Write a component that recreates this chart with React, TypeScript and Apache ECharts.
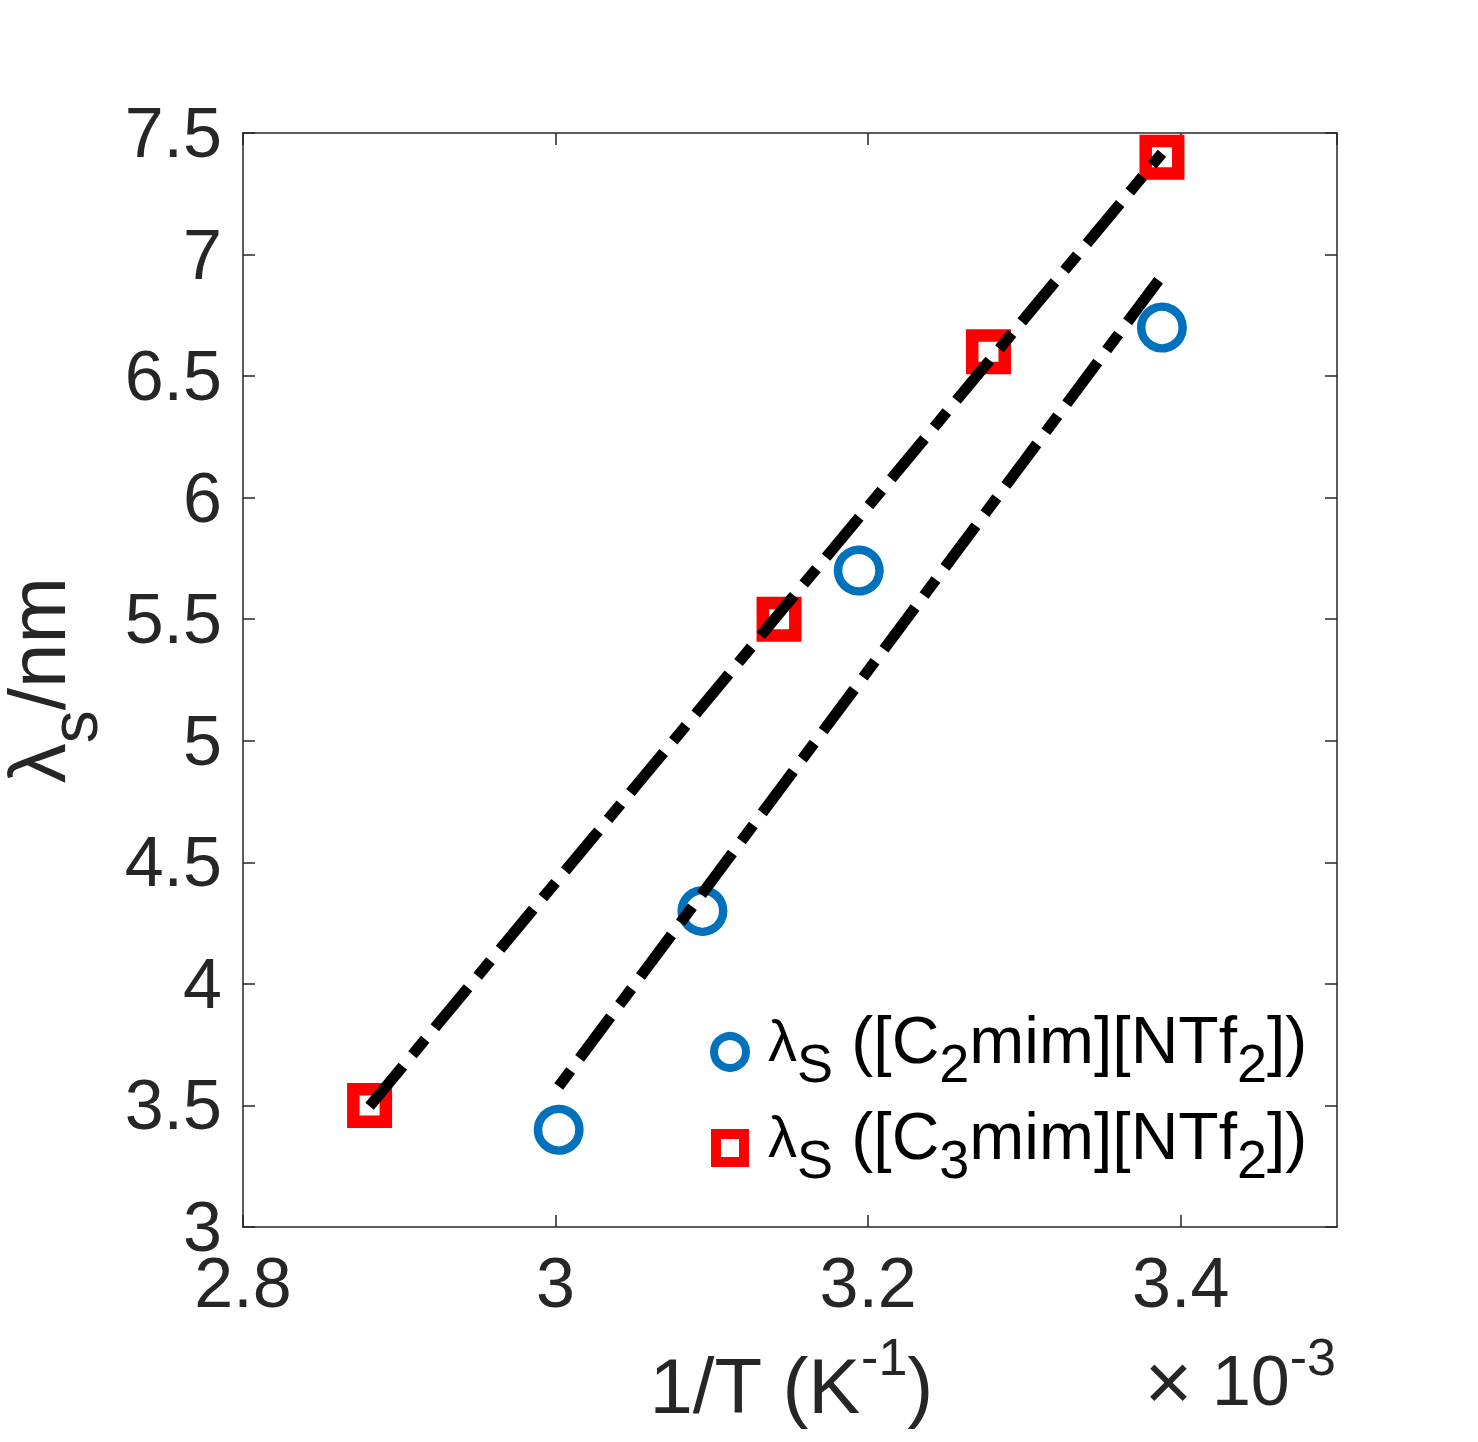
import React, { useEffect, useRef } from "react";
import * as echarts from "echarts";

// 1/T values are in units of 10^-3 K^-1
const c2X = [3.002, 3.094, 3.194, 3.388];
const c2Y = [3.4, 4.3, 5.7, 6.7];
const c3X = [2.881, 3.143, 3.277, 3.388];
const c3Y = [3.5, 5.5, 6.6, 7.4];
const fitC2X = [3.002, 3.388];
const fitC2Y = [3.578, 6.913];
const fitC3X = [2.881, 3.388];
const fitC3Y = [3.497, 7.417];

const xMin = 2.8, xMax = 3.5, xStep = 0.2;
const yMin = 3, yMax = 7.5, yStep = 0.5;

const FONT = "'Liberation Sans', Arial, Helvetica, sans-serif";
const AX = "#262626";

const zip = (xs: number[], ys: number[]) => xs.map((x, i) => [x, ys[i]]);

export default function App() {
  const ref = useRef<HTMLDivElement>(null);
  useEffect(() => {
    if (!ref.current) return;
    const chart = echarts.init(ref.current, null, { renderer: "svg" });
    const grid = { left: 243, top: 133, width: 1094, height: 1094 };
    const axisCommon = {
      type: "value",
      splitLine: { show: false },
      axisLine: { show: true, lineStyle: { color: AX, width: 1.5 } },
      axisTick: { show: true, inside: true, length: 12, lineStyle: { color: AX, width: 1.5 } },
    };
    const labelStyle = { color: AX, fontSize: 70, fontFamily: FONT, margin: 21 };
    const rt = (fs: number, lh: number, va: string, extra: any = {}) => ({
      fontSize: fs, lineHeight: lh, verticalAlign: va, fontFamily: FONT, fill: AX, ...extra,
    });
    const legRich = {
      l: rt(58, 100, "middle", { fill: "#000" }),
      s: rt(54, 30, "bottom", { fill: "#000" }),
      m: rt(66, 100, "middle", { fill: "#000" }),
      n: rt(54, 37, "bottom", { fill: "#000" }),
    };
    const dash = [52, 15, 20, 15];
    chart.setOption({
      animation: false,
      backgroundColor: "#ffffff",
      grid,
      xAxis: [
        {
          ...axisCommon, position: "bottom", min: xMin, max: xMax, interval: xStep,
          axisLabel: { ...labelStyle, showMaxLabel: false },
        },
        {
          ...axisCommon, position: "top", min: xMin, max: xMax, interval: xStep,
          axisLabel: { show: false },
        },
      ],
      yAxis: [
        {
          ...axisCommon, position: "left", min: yMin, max: yMax, interval: yStep,
          axisLabel: { ...labelStyle },
        },
        {
          ...axisCommon, position: "right", min: yMin, max: yMax, interval: yStep,
          axisLabel: { show: false },
        },
      ],
      series: [
        {
          name: "λS ([C2mim][NTf2])",
          type: "scatter",
          data: zip(c2X, c2Y),
          symbol: "circle",
          symbolSize: 41.5,
          itemStyle: { color: "rgba(0,0,0,0)", borderColor: "#0072BD", borderWidth: 8.5, opacity: 1 },
          z: 2,
        },
        {
          name: "λS ([C3mim][NTf2])",
          type: "scatter",
          data: zip(c3X, c3Y),
          symbol: "rect",
          symbolSize: 32.5,
          itemStyle: { color: "rgba(0,0,0,0)", borderColor: "#FF0000", borderWidth: 12.5, opacity: 1 },
          z: 2,
        },
        {
          name: "fit C3",
          type: "line",
          data: zip(fitC3X, fitC3Y),
          symbol: "none",
          lineStyle: { color: "#000", width: 11, type: dash, cap: "butt" },
          z: 3,
        },
        {
          name: "fit C2",
          type: "line",
          data: zip(fitC2X, fitC2Y),
          symbol: "none",
          lineStyle: { color: "#000", width: 11, type: dash, dashOffset: 67, cap: "butt" },
          z: 3,
        },
      ],
      graphic: [
        {
          type: "text", x: 791, y: 1331, z: 10,
          style: {
            text: "{m|1/T (K}{sup|-1}{m|)}", align: "center", verticalAlign: "top", fill: AX,
            rich: { m: rt(78, 110, "middle"), sup: rt(52, 46, "top") },
          },
        },
        {
          type: "text", x: 1336, y: 1331, z: 10,
          style: {
            text: "{x|×}{m| 10}{sup|-3}", align: "right", verticalAlign: "top", fill: AX,
            rich: { x: rt(82, 100, "middle"), m: rt(70, 100, "middle"), sup: rt(52, 59, "top") },
          },
        },
        {
          type: "text", x: -33, y: 680, rotation: Math.PI / 2, z: 10,
          style: {
            text: "{m|λ}{sub|s}{m|/nm}", align: "center", verticalAlign: "top", fill: AX,
            rich: { m: rt(80, 140, "middle"), sub: rt(66, 50, "bottom") },
          },
        },
        {
          type: "circle", z: 10,
          shape: { cx: 730, cy: 1052, r: 16 },
          style: { fill: "none", stroke: "#0072BD", lineWidth: 8 },
        },
        {
          type: "rect", z: 10,
          shape: { x: 716, y: 1134, width: 28, height: 28 },
          style: { fill: "none", stroke: "#FF0000", lineWidth: 10 },
        },
        {
          type: "text", x: 768, y: 990, z: 10,
          style: {
            text: "{l|λ}{s|S}{m| ([C}{n|2}{m|mim][NTf}{n|2}{m|])}", align: "left", verticalAlign: "top",
            fill: "#000", rich: legRich,
          },
        },
        {
          type: "text", x: 768, y: 1086, z: 10,
          style: {
            text: "{l|λ}{s|S}{m| ([C}{n|3}{m|mim][NTf}{n|2}{m|])}", align: "left", verticalAlign: "top",
            fill: "#000", rich: legRich,
          },
        },
      ],
    });
    return () => chart.dispose();
  }, []);
  return (
    <div
      ref={ref}
      style={{ position: "absolute", left: 0, top: 0, width: 1478, height: 1442, background: "#fff" }}
    />
  );
}
